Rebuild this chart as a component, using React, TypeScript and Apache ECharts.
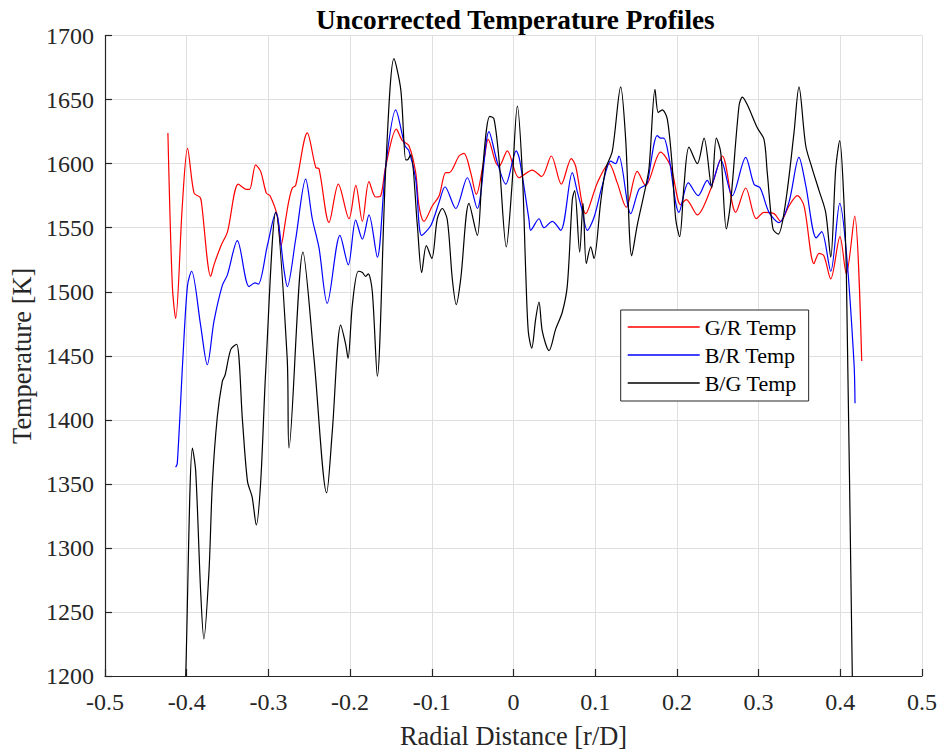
import React, { useEffect, useRef } from "react";
import * as echarts from "echarts";

// G/R ratio temperature profile
const grRadial = [-0.423, -0.4176, -0.4135, -0.4054, -0.399, -0.391, -0.384, -0.382, -0.3706, -0.3666, -0.358, -0.35, -0.3368, -0.327, -0.323, -0.3156, -0.3095, -0.3025, -0.298, -0.289, -0.2845, -0.279, -0.275, -0.2707, -0.2666, -0.2524, -0.242, -0.238, -0.2258, -0.2144, -0.2013, -0.193, -0.185, -0.1769, -0.1687, -0.1625, -0.1564, -0.1434, -0.136, -0.128, -0.1197, -0.1157, -0.1095, -0.0994, -0.091, -0.083, -0.0786, -0.0667, -0.0606, -0.0524, -0.0455, -0.0361, -0.031, -0.0218, -0.0177, -0.0076, 0.0067, 0.023, 0.0345, 0.0463, 0.0585, 0.0708, 0.0761, 0.0884, 0.1026, 0.1169, 0.127, 0.138, 0.1515, 0.1618, 0.18, 0.1924, 0.2046, 0.2115, 0.225, 0.2413, 0.2556, 0.272, 0.2842, 0.2972, 0.3066, 0.3189, 0.327, 0.3372, 0.3474, 0.3556, 0.3678, 0.374, 0.38, 0.3883, 0.3996, 0.4074, 0.4176, 0.4262];
const grTemp = [1624, 1505, 1479, 1567, 1612, 1577, 1574, 1570, 1512, 1521, 1536, 1547, 1584, 1580, 1580, 1599, 1594, 1577, 1575, 1559, 1536, 1556, 1571, 1581, 1583, 1624, 1597, 1596, 1554, 1584, 1557, 1583, 1555, 1586, 1574, 1575, 1598, 1627, 1618, 1614, 1593, 1567, 1555, 1567, 1575, 1593, 1593, 1606, 1608, 1593, 1576, 1603, 1619, 1601, 1598, 1610, 1589, 1595, 1590, 1606, 1584, 1604, 1598, 1561, 1585, 1600, 1585, 1566, 1594, 1583, 1609, 1598, 1568, 1572, 1560, 1580, 1606, 1562, 1581, 1557, 1562, 1561, 1555, 1567, 1575, 1567, 1522, 1530, 1528, 1510, 1543, 1514, 1559, 1446];

// B/R ratio temperature profile
const brRadial = [-0.4135, -0.4115, -0.4045, -0.399, -0.394, -0.383, -0.3748, -0.3666, -0.3564, -0.3503, -0.338, -0.3237, -0.3164, -0.3123, -0.3013, -0.291, -0.2809, -0.2769, -0.2666, -0.2544, -0.2463, -0.238, -0.228, -0.2124, -0.2022, -0.1932, -0.185, -0.1769, -0.1667, -0.1564, -0.1442, -0.1328, -0.128, -0.1197, -0.1124, -0.101, -0.091, -0.0838, -0.0707, -0.0565, -0.0443, -0.03, -0.0198, -0.0095, 0.0034, 0.0075, 0.019, 0.021, 0.0312, 0.0373, 0.0475, 0.0578, 0.072, 0.0781, 0.0835, 0.0903, 0.0985, 0.1087, 0.119, 0.125, 0.129, 0.1435, 0.1536, 0.161, 0.1638, 0.176, 0.18, 0.184, 0.19, 0.2026, 0.214, 0.226, 0.2372, 0.2413, 0.2536, 0.2678, 0.2842, 0.2944, 0.302, 0.3127, 0.325, 0.3372, 0.3494, 0.3577, 0.3706, 0.3772, 0.3883, 0.3993, 0.4074, 0.4168, 0.418];
const brTemp = [1363, 1366, 1450, 1505, 1516, 1474, 1443, 1477, 1505, 1513, 1540, 1504, 1507, 1506, 1536, 1562, 1517, 1504, 1541, 1588, 1557, 1534, 1491, 1544, 1521, 1556, 1541, 1560, 1527, 1598, 1642, 1614, 1610, 1588, 1544, 1552, 1570, 1582, 1565, 1589, 1565, 1625, 1601, 1584, 1610, 1603, 1556, 1548, 1557, 1550, 1555, 1548, 1593, 1578, 1565, 1548, 1558, 1583, 1602, 1600, 1606, 1561, 1580, 1583, 1585, 1622, 1620, 1620, 1606, 1562, 1585, 1575, 1587, 1583, 1603, 1575, 1605, 1584, 1581, 1562, 1554, 1570, 1605, 1583, 1542, 1547, 1516, 1569, 1531, 1444, 1413];

// B/G ratio temperature profile
const bgRadial = [-0.4022, -0.4012, -0.393, -0.389, -0.383, -0.379, -0.3727, -0.3686, -0.3626, -0.3564, -0.353, -0.346, -0.339, -0.3317, -0.3256, -0.32, -0.3148, -0.3094, -0.3033, -0.291, -0.277, -0.2748, -0.2577, -0.2442, -0.2287, -0.2218, -0.2115, -0.2054, -0.2025, -0.1972, -0.19, -0.185, -0.181, -0.1777, -0.1728, -0.1667, -0.1564, -0.1463, -0.138, -0.1319, -0.13, -0.1258, -0.1177, -0.1124, -0.1067, -0.1, -0.0933, -0.0872, -0.081, -0.0749, -0.07, -0.0646, -0.0545, -0.0443, -0.0382, -0.0291, -0.0239, -0.0177, -0.0088, -0.0022, 0.0047, 0.0108, 0.015, 0.0181, 0.0223, 0.0272, 0.0312, 0.0353, 0.0435, 0.0517, 0.0597, 0.0659, 0.072, 0.0749, 0.081, 0.0851, 0.0891, 0.0945, 0.0985, 0.1067, 0.1129, 0.121, 0.1312, 0.1373, 0.1447, 0.1515, 0.1597, 0.1658, 0.1732, 0.1772, 0.182, 0.1882, 0.1943, 0.1985, 0.2034, 0.2087, 0.2148, 0.225, 0.2332, 0.2426, 0.2482, 0.2536, 0.2605, 0.2658, 0.276, 0.2801, 0.2862, 0.2984, 0.3066, 0.3106, 0.3176, 0.3241, 0.3331, 0.3433, 0.3494, 0.3577, 0.3657, 0.374, 0.3821, 0.3883, 0.3944, 0.3993, 0.4045, 0.4074, 0.4147, 0.4155];
const bgTemp = [1178, 1200, 1378, 1360, 1267, 1229, 1282, 1350, 1402, 1430, 1435, 1455, 1459, 1399, 1352, 1340, 1318, 1352, 1438, 1562, 1448, 1378, 1531, 1448, 1343, 1391, 1474, 1459, 1448, 1490, 1516, 1515, 1512, 1514, 1500, 1434, 1596, 1682, 1658, 1603, 1603, 1607, 1552, 1515, 1536, 1526, 1557, 1565, 1556, 1510, 1490, 1510, 1569, 1544, 1593, 1637, 1635, 1603, 1535, 1580, 1645, 1593, 1515, 1469, 1456, 1479, 1492, 1469, 1454, 1471, 1484, 1505, 1572, 1579, 1531, 1569, 1522, 1535, 1526, 1570, 1596, 1610, 1660, 1619, 1528, 1552, 1576, 1596, 1658, 1640, 1642, 1635, 1598, 1557, 1543, 1583, 1613, 1600, 1620, 1581, 1620, 1609, 1549, 1570, 1645, 1652, 1646, 1628, 1619, 1593, 1549, 1545, 1570, 1624, 1660, 1614, 1596, 1579, 1562, 1527, 1596, 1618, 1570, 1515, 1200, 1170];

const seriesNames = ["G/R Temp", "B/R Temp", "B/G Temp"];
const seriesColors = ["#ff0000", "#0000ff", "#000000"];

const FONT = "'Liberation Serif', 'Times New Roman', serif";
const AXIS_COLOR = "#262626";

function pairs(xs: number[], ys: number[]) {
  return xs.map((x, i) => [x, ys[i]]);
}

export default function App() {
  const ref = useRef<HTMLDivElement>(null);

  useEffect(() => {
    if (!ref.current) return;
    const chart = echarts.init(ref.current, undefined, { renderer: "svg" });
    const datasets = [
      pairs(grRadial, grTemp),
      pairs(brRadial, brTemp),
      pairs(bgRadial, bgTemp),
    ];
    const axisCommon = {
      axisLine: { onZero: false, lineStyle: { color: AXIS_COLOR, width: 1.2 } },
      axisTick: { inside: true, length: 7, lineStyle: { color: AXIS_COLOR, width: 1.2 } },
      splitLine: { show: true, lineStyle: { color: "#dfdfdf", width: 1 } },
      nameLocation: "middle" as const,
      nameTextStyle: { fontFamily: FONT, fontSize: 26.4, color: AXIS_COLOR },
    };
    chart.setOption({
      animation: false,
      backgroundColor: "#ffffff",
      textStyle: { fontFamily: FONT },
      title: {
        text: "Uncorrected Temperature Profiles",
        left: 311,
        top: 1,
        textStyle: { fontFamily: FONT, fontSize: 27.3, fontWeight: "bold", color: "#000" },
      },
      grid: { left: 105, right: 17, top: 35.6, bottom: 74.4 },
      legend: {
        orient: "vertical",
        left: 620.7,
        top: 310,
        icon: "rect",
        itemWidth: 72,
        itemHeight: 1.5,
        itemGap: 0,
        padding: [3, 12, 4, 7],
        borderColor: AXIS_COLOR,
        borderWidth: 1,
        backgroundColor: "#ffffff",
        textStyle: { fontFamily: FONT, fontSize: 22, color: "#000", lineHeight: 28 },
        data: seriesNames,
      },
      xAxis: {
        ...axisCommon,
        type: "value",
        min: -0.5,
        max: 0.5,
        interval: 0.1,
        name: "Radial Distance [r/D]",
        nameGap: 47,
        axisLabel: {
          margin: 14,
          fontFamily: FONT,
          fontSize: 24,
          color: AXIS_COLOR,
          formatter: (v: number) => String(+v.toFixed(1)),
        },
      },
      yAxis: {
        ...axisCommon,
        type: "value",
        min: 1200,
        max: 1700,
        interval: 50,
        name: "Temperature [K]",
        nameGap: 70,
        axisLabel: {
          margin: 11,
          fontFamily: FONT,
          fontSize: 24,
          color: AXIS_COLOR,
          formatter: (v: number) => String(Math.round(v)),
        },
      },
      series: datasets.map((data, i) => ({
        name: seriesNames[i],
        type: "line",
        data,
        symbol: "none",
        showSymbol: false,
        smooth: 0.3,
        clip: true,
        color: seriesColors[i],
        lineStyle: { color: seriesColors[i], width: 1.2 },
      })),
    });
    return () => chart.dispose();
  }, []);

  return (
    <div
      ref={ref}
      style={{ position: "fixed", left: 0, top: 0, width: 940, height: 754, background: "#fff" }}
    />
  );
}
